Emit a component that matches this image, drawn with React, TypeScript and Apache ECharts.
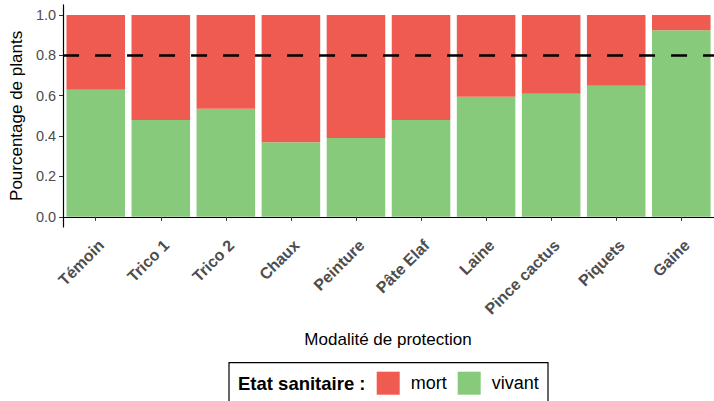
import React, { useEffect, useRef } from "react";
import * as echarts from "echarts";

const categories = ["Témoin", "Trico 1", "Trico 2", "Chaux", "Peinture", "Pâte Elaf", "Laine", "Pince cactus", "Piquets", "Gaine"];
const vivant = [0.63, 0.48, 0.535, 0.37, 0.39, 0.48, 0.595, 0.61, 0.65, 0.925];
const mort = [0.37, 0.52, 0.465, 0.63, 0.61, 0.52, 0.405, 0.39, 0.35, 0.075];
const yTicks = [0, 0.2, 0.4, 0.6, 0.8, 1.0];
const threshold = 0.8;
const legendNames = ["mort", "vivant"];

const RED = "#EF5B51";
const GREEN = "#88CA7C";
const FONT = "Liberation Sans, Arial, sans-serif";

export default function App() {
  const ref = useRef<HTMLDivElement>(null);
  useEffect(() => {
    if (!ref.current) return;
    const chart = echarts.init(ref.current, null, { renderer: "svg" });
    chart.setOption({
      animation: false,
      textStyle: { fontFamily: FONT },
      grid: [
        { left: 63.2, top: 4.9, width: 650.6, height: 222.0 },
        { left: 57.7, top: 4.9, width: 663.6, height: 222.0 },
      ],
      xAxis: [
        {
          type: "category",
          gridIndex: 0,
          data: categories,
          axisLine: { show: false },
          axisTick: { show: true, alignWithLabel: true, length: 4, lineStyle: { color: "#333", width: 1 } },
          axisLabel: {
            interval: 0,
            rotate: 45,
            fontSize: 16,
            fontWeight: "bold",
            color: "#4D4D4D",
            margin: 10,
            verticalAlign: "top",
            fontFamily: FONT,
          },
          splitLine: { show: false },
        },
        {
          type: "value",
          gridIndex: 1,
          min: 0,
          max: 1,
          axisLine: { show: true, lineStyle: { color: "#000", width: 1.2 } },
          axisTick: { show: false },
          axisLabel: { show: false },
          splitLine: { show: false },
        },
      ],
      yAxis: [
        {
          type: "value",
          gridIndex: 0,
          min: -0.05,
          max: 1.05,
          show: false,
          splitLine: { show: false },
        },
        {
          type: "value",
          gridIndex: 1,
          min: -0.05,
          max: 1.05,
          splitLine: { show: false },
          axisLine: { show: true, lineStyle: { color: "#000", width: 1.2 } },
          axisTick: { show: true, customValues: yTicks, length: 4, lineStyle: { color: "#333", width: 1 } },
          axisLabel: {
            customValues: yTicks,
            formatter: (v: number) => v.toFixed(1),
            fontSize: 14.5,
            color: "#4D4D4D",
            margin: 7,
            fontFamily: FONT,
          },
          name: "Pourcentage de plants",
          nameLocation: "middle",
          nameGap: 28,
          nameTextStyle: { fontSize: 17, color: "#000", fontFamily: FONT },
        },
      ],
      legend: {
        data: legendNames,
        left: 376.7,
        top: 371.7,
        padding: 0,
        itemWidth: 23,
        itemHeight: 23,
        itemGap: 11,
        icon: "rect",
        selectedMode: false,
        textStyle: { fontSize: 18, color: "#000", padding: [0, 0, 0, 6], fontFamily: FONT },
      },
      graphic: [
        {
          type: "rect",
          shape: { x: 229, y: 362.7, width: 319, height: 60 },
          style: { fill: "none", stroke: "#000", lineWidth: 1.2 },
          silent: true,
        },
        {
          type: "text",
          x: 238,
          y: 383.5,
          style: { text: "Etat sanitaire :", fontSize: 18.5, fontWeight: "bold", fill: "#000", textVerticalAlign: "middle", fontFamily: FONT },
          silent: true,
        },
        {
          type: "text",
          x: 388,
          y: 339,
          style: { text: "Modalité de protection", fontSize: 17, fill: "#000", textAlign: "center", textVerticalAlign: "middle", fontFamily: FONT },
          silent: true,
        },
      ],
      series: [
        {
          name: "vivant",
          type: "bar",
          xAxisIndex: 0,
          yAxisIndex: 0,
          stack: "total",
          barWidth: "90%",
          itemStyle: { color: GREEN },
          data: vivant,
        },
        {
          name: "mort",
          type: "bar",
          xAxisIndex: 0,
          yAxisIndex: 0,
          stack: "total",
          barWidth: "90%",
          itemStyle: { color: RED },
          data: mort,
        },
        {
          name: "seuil",
          type: "line",
          xAxisIndex: 1,
          yAxisIndex: 1,
          data: [],
          silent: true,
          markLine: {
            silent: true,
            symbol: "none",
            label: { show: false },
            lineStyle: { color: "#000", width: 2.6, type: [16, 16] },
            data: [{ yAxis: threshold }],
          },
        },
      ],
    });
    return () => chart.dispose();
  }, []);
  return <div ref={ref} style={{ position: "absolute", left: 0, top: 0, width: 714, height: 401 }} />;
}
